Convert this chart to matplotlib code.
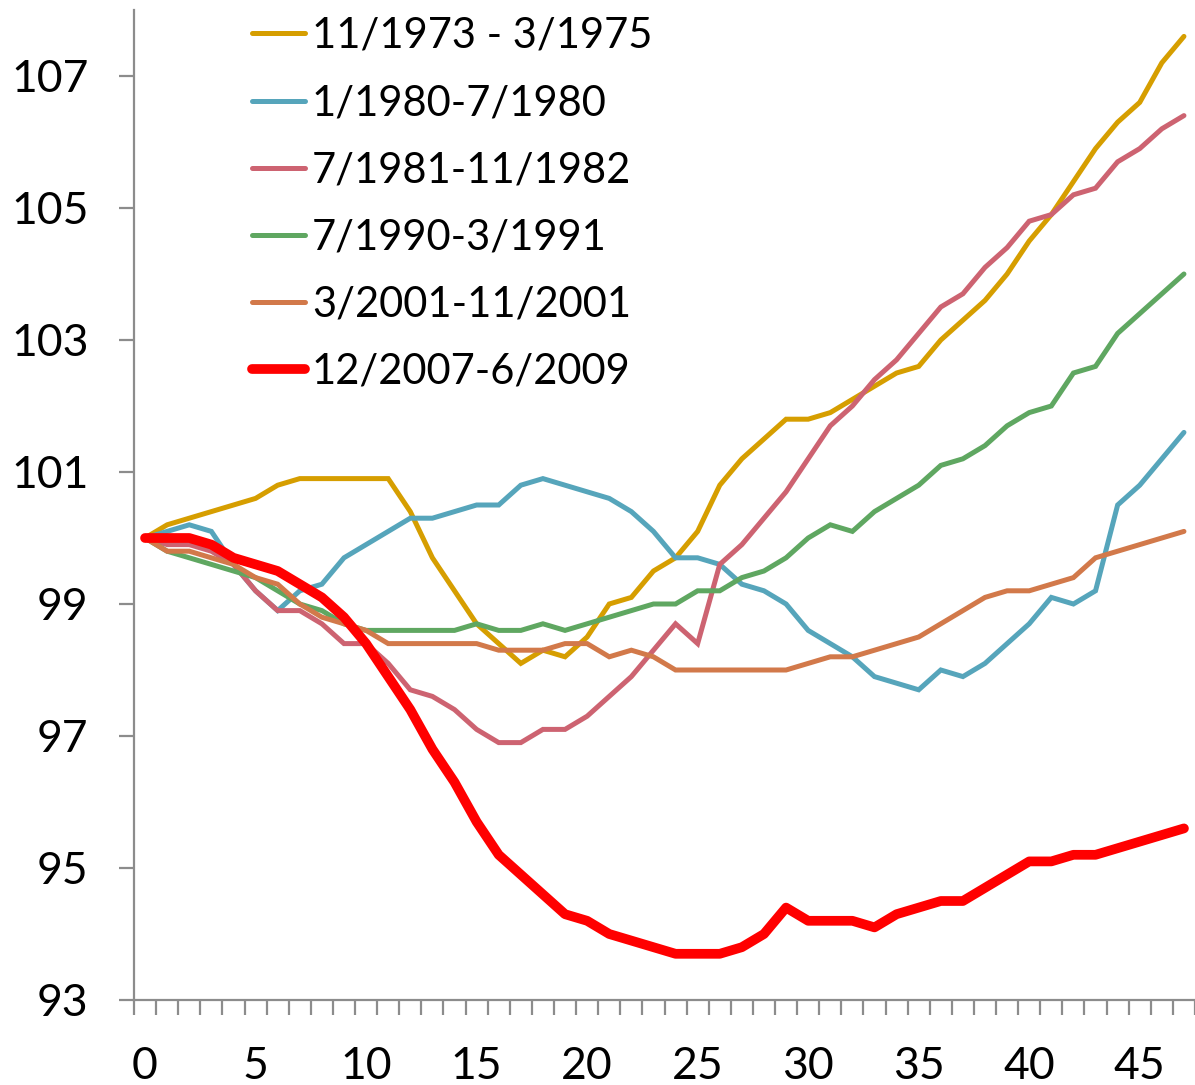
import matplotlib
matplotlib.use("Agg")
import matplotlib.pyplot as plt
import numpy as np

plt.rcParams['font.family'] = ['Lato', 'DejaVu Sans']

months = list(range(48))

labels = ["11/1973 - 3/1975", "1/1980-7/1980", "7/1981-11/1982",
          "7/1990-3/1991", "3/2001-11/2001", "12/2007-6/2009"]

s1973 = [100, 100.2, 100.3, 100.4, 100.5, 100.6, 100.8, 100.9, 100.9, 100.9,
         100.9, 100.9, 100.4, 99.7, 99.2, 98.7, 98.4, 98.1, 98.3, 98.2,
         98.5, 99.0, 99.1, 99.5, 99.7, 100.1, 100.8, 101.2, 101.5, 101.8,
         101.8, 101.9, 102.1, 102.3, 102.5, 102.6, 103.0, 103.3, 103.6, 104.0,
         104.5, 104.9, 105.4, 105.9, 106.3, 106.6, 107.2, 107.6]

s1980 = [100, 100.1, 100.2, 100.1, 99.6, 99.2, 98.9, 99.2, 99.3, 99.7,
         99.9, 100.1, 100.3, 100.3, 100.4, 100.5, 100.5, 100.8, 100.9, 100.8,
         100.7, 100.6, 100.4, 100.1, 99.7, 99.7, 99.6, 99.3, 99.2, 99.0,
         98.6, 98.4, 98.2, 97.9, 97.8, 97.7, 98.0, 97.9, 98.1, 98.4,
         98.7, 99.1, 99.0, 99.2, 100.5, 100.8, 101.2, 101.6]

s1981 = [100, 99.9, 99.9, 99.8, 99.6, 99.2, 98.9, 98.9, 98.7, 98.4,
         98.4, 98.1, 97.7, 97.6, 97.4, 97.1, 96.9, 96.9, 97.1, 97.1,
         97.3, 97.6, 97.9, 98.3, 98.7, 98.4, 99.6, 99.9, 100.3, 100.7,
         101.2, 101.7, 102.0, 102.4, 102.7, 103.1, 103.5, 103.7, 104.1, 104.4,
         104.8, 104.9, 105.2, 105.3, 105.7, 105.9, 106.2, 106.4]

s1990 = [100, 99.8, 99.7, 99.6, 99.5, 99.4, 99.2, 99.0, 98.9, 98.7,
         98.6, 98.6, 98.6, 98.6, 98.6, 98.7, 98.6, 98.6, 98.7, 98.6,
         98.7, 98.8, 98.9, 99.0, 99.0, 99.2, 99.2, 99.4, 99.5, 99.7,
         100.0, 100.2, 100.1, 100.4, 100.6, 100.8, 101.1, 101.2, 101.4, 101.7,
         101.9, 102.0, 102.5, 102.6, 103.1, 103.4, 103.7, 104.0]

s2001 = [100, 99.8, 99.8, 99.7, 99.6, 99.4, 99.3, 99.0, 98.8, 98.7,
         98.6, 98.4, 98.4, 98.4, 98.4, 98.4, 98.3, 98.3, 98.3, 98.4,
         98.4, 98.2, 98.3, 98.2, 98.0, 98.0, 98.0, 98.0, 98.0, 98.0,
         98.1, 98.2, 98.2, 98.3, 98.4, 98.5, 98.7, 98.9, 99.1, 99.2,
         99.2, 99.3, 99.4, 99.7, 99.8, 99.9, 100.0, 100.1]

s2007 = [100, 100, 100.0, 99.9, 99.7, 99.6, 99.5, 99.3, 99.1, 98.8,
         98.4, 97.9, 97.4, 96.8, 96.3, 95.7, 95.2, 94.9, 94.6, 94.3,
         94.2, 94.0, 93.9, 93.8, 93.7, 93.7, 93.7, 93.8, 94.0, 94.4,
         94.2, 94.2, 94.2, 94.1, 94.3, 94.4, 94.5, 94.5, 94.7, 94.9,
         95.1, 95.1, 95.2, 95.2, 95.3, 95.4, 95.5, 95.6]

series = [s1973, s1980, s1981, s1990, s2001, s2007]
colors = ["#D69E00", "#56A5BB", "#CD6371", "#5FA761", "#D2794A", "#FF0000"]
widths = [3.6, 3.6, 3.6, 3.6, 3.6, 7.0]

yticks = [93, 95, 97, 99, 101, 103, 105, 107]
xticks = [0, 5, 10, 15, 20, 25, 30, 35, 40, 45]

fig = plt.figure(figsize=(11.95, 10.85), dpi=100)
ax = fig.add_axes([134/1195, 85/1085, 1 - 134/1195, 990/1085])

for vals, lab, c, w in zip(series, labels, colors, widths):
    ax.plot(months, vals, color=c, lw=w, label=lab,
            solid_joinstyle='miter' if w < 5 else 'round',
            solid_capstyle='round')

ax.set_xlim(-0.5, 47.5)
ax.set_ylim(93, 108)

for sp in ['top', 'right']:
    ax.spines[sp].set_visible(False)
for sp in ['left', 'bottom']:
    ax.spines[sp].set_color('#8C8C8C')
    ax.spines[sp].set_linewidth(1.6)

ax.set_yticks(yticks)
ax.set_yticklabels([str(v) for v in yticks])
ax.tick_params(axis='y', length=10.8, width=1.6, color='#8C8C8C', pad=22,
               labelsize=32, direction='out')

ax.set_xticks(xticks)
ax.set_xticklabels([str(v) for v in xticks])
ax.set_xticks(np.arange(-0.5, 48, 1.0), minor=True)
ax.tick_params(axis='x', which='major', length=0, pad=33, labelsize=32)
ax.tick_params(axis='x', which='minor', length=10.8, width=1.6, color='#8C8C8C',
               direction='out')

leg = ax.legend(loc='upper left', bbox_to_anchor=(252/1195, 1 - 17/1085),
                bbox_transform=fig.transFigure, frameon=False, fontsize=30,
                handlelength=1.27, handletextpad=0.17, labelspacing=0.70,
                borderpad=0, borderaxespad=0)
for t in leg.get_texts():
    t.set_color('#000000')

fig.savefig("out.png", dpi=100)
